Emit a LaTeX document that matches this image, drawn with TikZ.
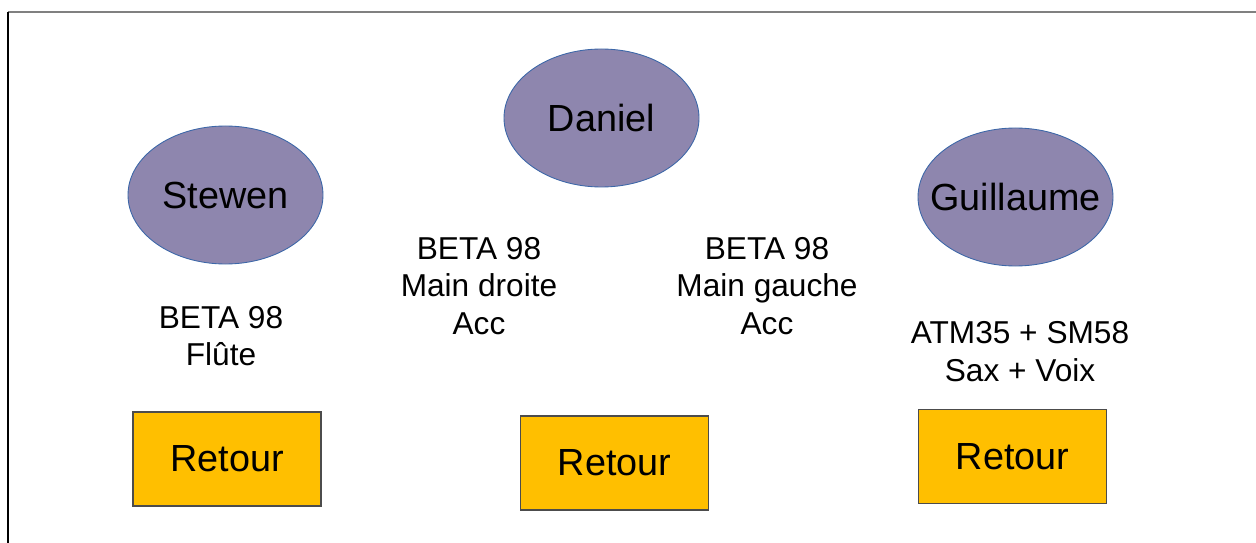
\documentclass[tikz,border=0pt]{standalone}
\usepackage{fontspec}
\setmainfont{Liberation Sans}
\usepackage{xcolor}
\usepackage{tikz}
\usetikzlibrary{shapes.geometric}

\definecolor{musicien}{HTML}{8E86AE}
\definecolor{contour}{HTML}{3C67A8}
\definecolor{retour}{HTML}{FFBF00}

\begin{document}
\begin{tikzpicture}[
    nom/.style={ellipse, fill=musicien, draw=contour, line width=0.5pt,
        minimum width=3.9cm, minimum height=2.76cm, inner sep=0pt,
        font=\fontsize{21.5}{25}\selectfont},
    ecoute/.style={rectangle, fill=retour, draw=black!70, line width=0.7pt,
        minimum width=3.76cm, minimum height=1.88cm, inner sep=0pt,
        font=\fontsize{21.5}{25}\selectfont},
    micro/.style={align=center, inner sep=0pt, font=\fontsize{18}{21.5}\selectfont}]

\useasboundingbox (0,0) rectangle (25.12,-10.86);
\draw[black!50, line width=1.2pt] (0.16,-0.24) -- (25.12,-0.24);
\draw[black, line width=1.1pt] (0.16,-0.24) -- (0.16,-10.86);

    \node[nom] (stewen) at (4.51,-3.9) {\makebox[0pt]{Stewen}};
    \node[nom] (daniel) at (12.03,-2.36) {\makebox[0pt]{Daniel}};
    \node[nom] (guillaume) at (20.31,-3.94) {\makebox[0pt]{Guillaume}};

    % micros
    \node[micro] (flute) at (4.42,-6.72) {BETA 98\\Flûte};
    \node[micro] (droite) at (9.58,-5.72) {BETA 98\\Main droite\\Acc};
    \node[micro] (gauche) at (15.34,-5.72) {BETA 98\\Main gauche\\Acc};
    \node[micro] (sax) at (20.4,-7.03) {ATM35 + SM58\\Sax + Voix};

    % retours
    \node[ecoute] (r1) at (4.54,-9.18) {Retour};
    \node[ecoute] (r2) at (12.29,-9.26) {Retour};
    \node[ecoute] (r3) at (20.25,-9.13) {Retour};

\end{tikzpicture}
\end{document}
